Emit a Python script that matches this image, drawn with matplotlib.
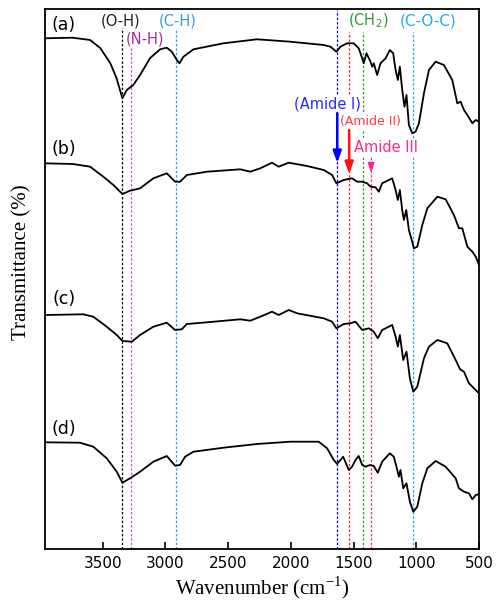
import matplotlib.pyplot as plt

plt.rcParams['mathtext.fontset'] = 'custom'
plt.rcParams['mathtext.rm'] = 'Liberation Serif'

# FTIR spectra, transmittance in arbitrary offset units
wn_a = [3960, 3740, 3600, 3520, 3440, 3390, 3343, 3308, 3256, 3202, 3122, 3042, 2989, 2949,
        2909, 2888, 2856, 2776, 2537, 2270, 2004, 1738, 1684, 1637, 1605, 1551, 1499, 1459,
        1431, 1419, 1397, 1365, 1351, 1339, 1312, 1285, 1245, 1211, 1184, 1165, 1147, 1131,
        1112, 1094, 1078, 1059, 1032, 1006, 979, 939, 899, 846, 780, 713, 673, 646, 620,
        593, 553, 526, 500]
t_a = [510.7, 511.3, 509, 501, 486, 471, 450.7, 459, 464, 474, 491, 499.7, 501.3, 497.3,
       489, 485.7, 492.3, 499.7, 505.7, 509.7, 507.3, 504, 502.3, 497.3, 502.3, 505.7, 505.7, 500.7,
       490.7, 485.7, 495.7, 487.3, 482.3, 485.7, 474, 485.7, 490.7, 499, 495.7, 479, 469, 482.3,
       459, 442.3, 454, 424, 415.7, 417.3, 425.7, 455.7, 479, 487.3, 484, 469, 445.7, 447.3, 439,
       434, 425.7, 429, 427.3]

wn_b = [3960, 3737, 3600, 3495, 3415, 3343, 3282, 3202, 3096, 2989, 2923, 2883, 2829, 2669,
        2403, 2324, 2244, 2150, 2097, 2017, 1871, 1738, 1671, 1637, 1578, 1512, 1472, 1431,
        1392, 1365, 1325, 1299, 1272, 1219, 1192, 1165, 1147, 1131, 1112, 1099, 1080, 1059,
        1040, 1019, 992, 952, 912, 832, 766, 700, 660, 633, 593, 553, 526, 500]
t_b = [385.7, 385, 382.3, 372.3, 364, 355, 358.3, 360.7, 370.7, 375.7, 367.3, 367.3, 374, 377.3,
       379.7, 377.3, 380.7, 386.3, 382.3, 386.3, 383, 379, 374, 365.7, 369, 370.7, 367.3, 367.3,
       365.7, 362.3, 361.7, 357.3, 365.7, 369, 370.7, 359, 349, 359, 339, 329, 339, 319,
       310.7, 300.7, 302.3, 324, 340.7, 352.3, 349.7, 334, 320.7, 320.7, 302.3, 297.3, 292.3, 284]

wn_c = [3960, 3655, 3575, 3468, 3388, 3343, 3268, 3202, 3096, 2989, 2923, 2870, 2829, 2669,
        2403, 2324, 2244, 2150, 2097, 2017, 1950, 1738, 1671, 1637, 1578, 1525, 1485, 1431,
        1378, 1339, 1307, 1272, 1192, 1165, 1147, 1131, 1104, 1078, 1051, 1024, 992, 939,
        899, 832, 753, 686, 651, 620, 580, 540, 500]
t_c = [234, 234.7, 232.3, 222.3, 214, 208, 207.3, 214, 222.3, 226.3, 219, 219.7, 225, 226.7,
       229.7, 228.3, 232.3, 237.3, 234, 239, 235.7, 230.7, 227.3, 220.7, 225, 225.7, 227.3, 219,
       220.7, 217.3, 210.7, 219, 224, 212.3, 202.3, 214, 189, 197.3, 170.7, 157.3, 162.3, 190.7,
       202.3, 209, 205.7, 189, 179.7, 177.3, 165.7, 160.7, 155.7]

wn_d = [3960, 3681, 3575, 3468, 3388, 3343, 3282, 3202, 3096, 2989, 2923, 2883, 2843, 2776,
        2537, 2270, 2004, 1778, 1711, 1658, 1631, 1605, 1583, 1538, 1512, 1485, 1459, 1431,
        1405, 1370, 1339, 1307, 1272, 1211, 1179, 1158, 1139, 1126, 1104, 1078, 1051, 1024,
        992, 952, 912, 846, 766, 686, 660, 620, 580, 553, 526, 500]
t_d = [106.7, 106.3, 102.3, 90.7, 77.3, 66.3, 70.7, 77.3, 87.3, 93, 83.3, 84, 92.3, 97.3,
       101.3, 105, 107.3, 107.3, 100.7, 89, 85, 89, 92.3, 79, 82.3, 89, 93, 84,
       82.3, 84, 83, 76.3, 87.3, 95.7, 92.3, 82.3, 72.3, 79, 60.7, 65.7, 47.3, 37.3,
       42.3, 65.7, 80.7, 88, 82.3, 70.7, 60.7, 57.3, 55.7, 49.7, 54, 54.7]

panel_names = ['(a)', '(b)', '(c)', '(d)']

# band positions (cm-1)
band_wn = [3343, 3274, 2918, 1630, 1535, 1428, 1360, 1027]
band_colors = ['black', '#cc55cc', '#3a9ad0', '#0000ff', '#ff2020', '#2e9a2e', '#ff1f8f', '#22aaf0']
band_tops = [0.965, 0.93, 0.961, 0.998, 0.957, 0.957, 0.726, 0.957]

fig = plt.figure(figsize=(4.98, 6.01), dpi=100)
ax = fig.add_axes([45 / 498, 52 / 601, 434 / 498, 540 / 601])

for w, c, top in zip(band_wn, band_colors, band_tops):
    ax.axvline(w, ymin=0, ymax=top, color=c, lw=0.9, ls=(0, (2, 1.5)), zorder=1)

for wn, t in [(wn_a, t_a), (wn_b, t_b), (wn_c, t_c), (wn_d, t_d)]:
    ax.plot(wn, t, color='black', lw=1.3, zorder=3)

# panel letters
for name, ty in zip(panel_names, [523.5, 399.5, 249.5, 119.5]):
    ax.text(3809, ty, name, fontsize=12.5, ha='center', va='center', zorder=4)

box = dict(facecolor='white', edgecolor='none', pad=0.8)
ax.text(3361, 528, '(O-H)', color='#222222', fontsize=10.5, ha='center', va='center', zorder=4)
ax.text(3166, 510, '(N-H)', color='#993399', fontsize=10.5, ha='center', va='center', zorder=4)
ax.text(2903, 528, '(C-H)', color='#3a9ad0', fontsize=10.5, ha='center', va='center', zorder=4)
ax.text(1385, 528, '(CH$_\\mathregular{2}$)', color='#2e9a2e', fontsize=10.5, ha='center',
        va='center', zorder=4)
ax.text(902, 528, '(C-O-C)', color='#22aaf0', fontsize=11, ha='center', va='center', zorder=4)
ax.text(1705, 445, '(Amide I)', color='#2a2aff', fontsize=10.5, ha='center', va='center',
        bbox=box, zorder=4)
ax.text(1365, 427, '(Amide II)', color='#ff3a3a', fontsize=9, ha='center', va='center',
        bbox=box, zorder=4)
ax.text(1245, 402, 'Amide III', color='#ff2a90', fontsize=10.5, ha='center', va='center',
        bbox=box, zorder=4)

ax.annotate('', xy=(1630, 386), xytext=(1630, 436),
            arrowprops=dict(arrowstyle='-|>,head_width=0.25,head_length=0.7', color='#0000ff',
                            lw=1.8, shrinkA=0, shrinkB=0), zorder=5)
ax.annotate('', xy=(1535, 375), xytext=(1535, 419),
            arrowprops=dict(arrowstyle='-|>,head_width=0.25,head_length=0.7', color='#ff1010',
                            lw=1.8, shrinkA=0, shrinkB=0), zorder=5)
ax.annotate('', xy=(1360, 376), xytext=(1360, 383),
            arrowprops=dict(arrowstyle='-|>,head_width=0.2,head_length=0.6', color='#ff1f8f',
                            lw=1.0, shrinkA=0, shrinkB=0), zorder=5)

ax.set_xlim(3960, 500)
ax.set_ylim(0, 540)
ax.set_xticks([3500, 3000, 2500, 2000, 1500, 1000, 500])
ax.set_yticks([])
ax.tick_params(axis='x', direction='in', length=5, width=1.2, labelsize=11, pad=5)
for s in ax.spines.values():
    s.set_linewidth(1.3)

fig.text(22 / 498, 1 - 262 / 601, 'Transmittance (%)', rotation=90, family='Liberation Serif',
         fontsize=15, ha='center', va='center')
fig.text(262 / 498, 1 - 588 / 601, 'Wavenumber (cm$^{\\mathregular{-1}}$)', family='Liberation Serif',
         fontsize=15, ha='center', va='center')

fig.savefig('out.png', dpi=100)
